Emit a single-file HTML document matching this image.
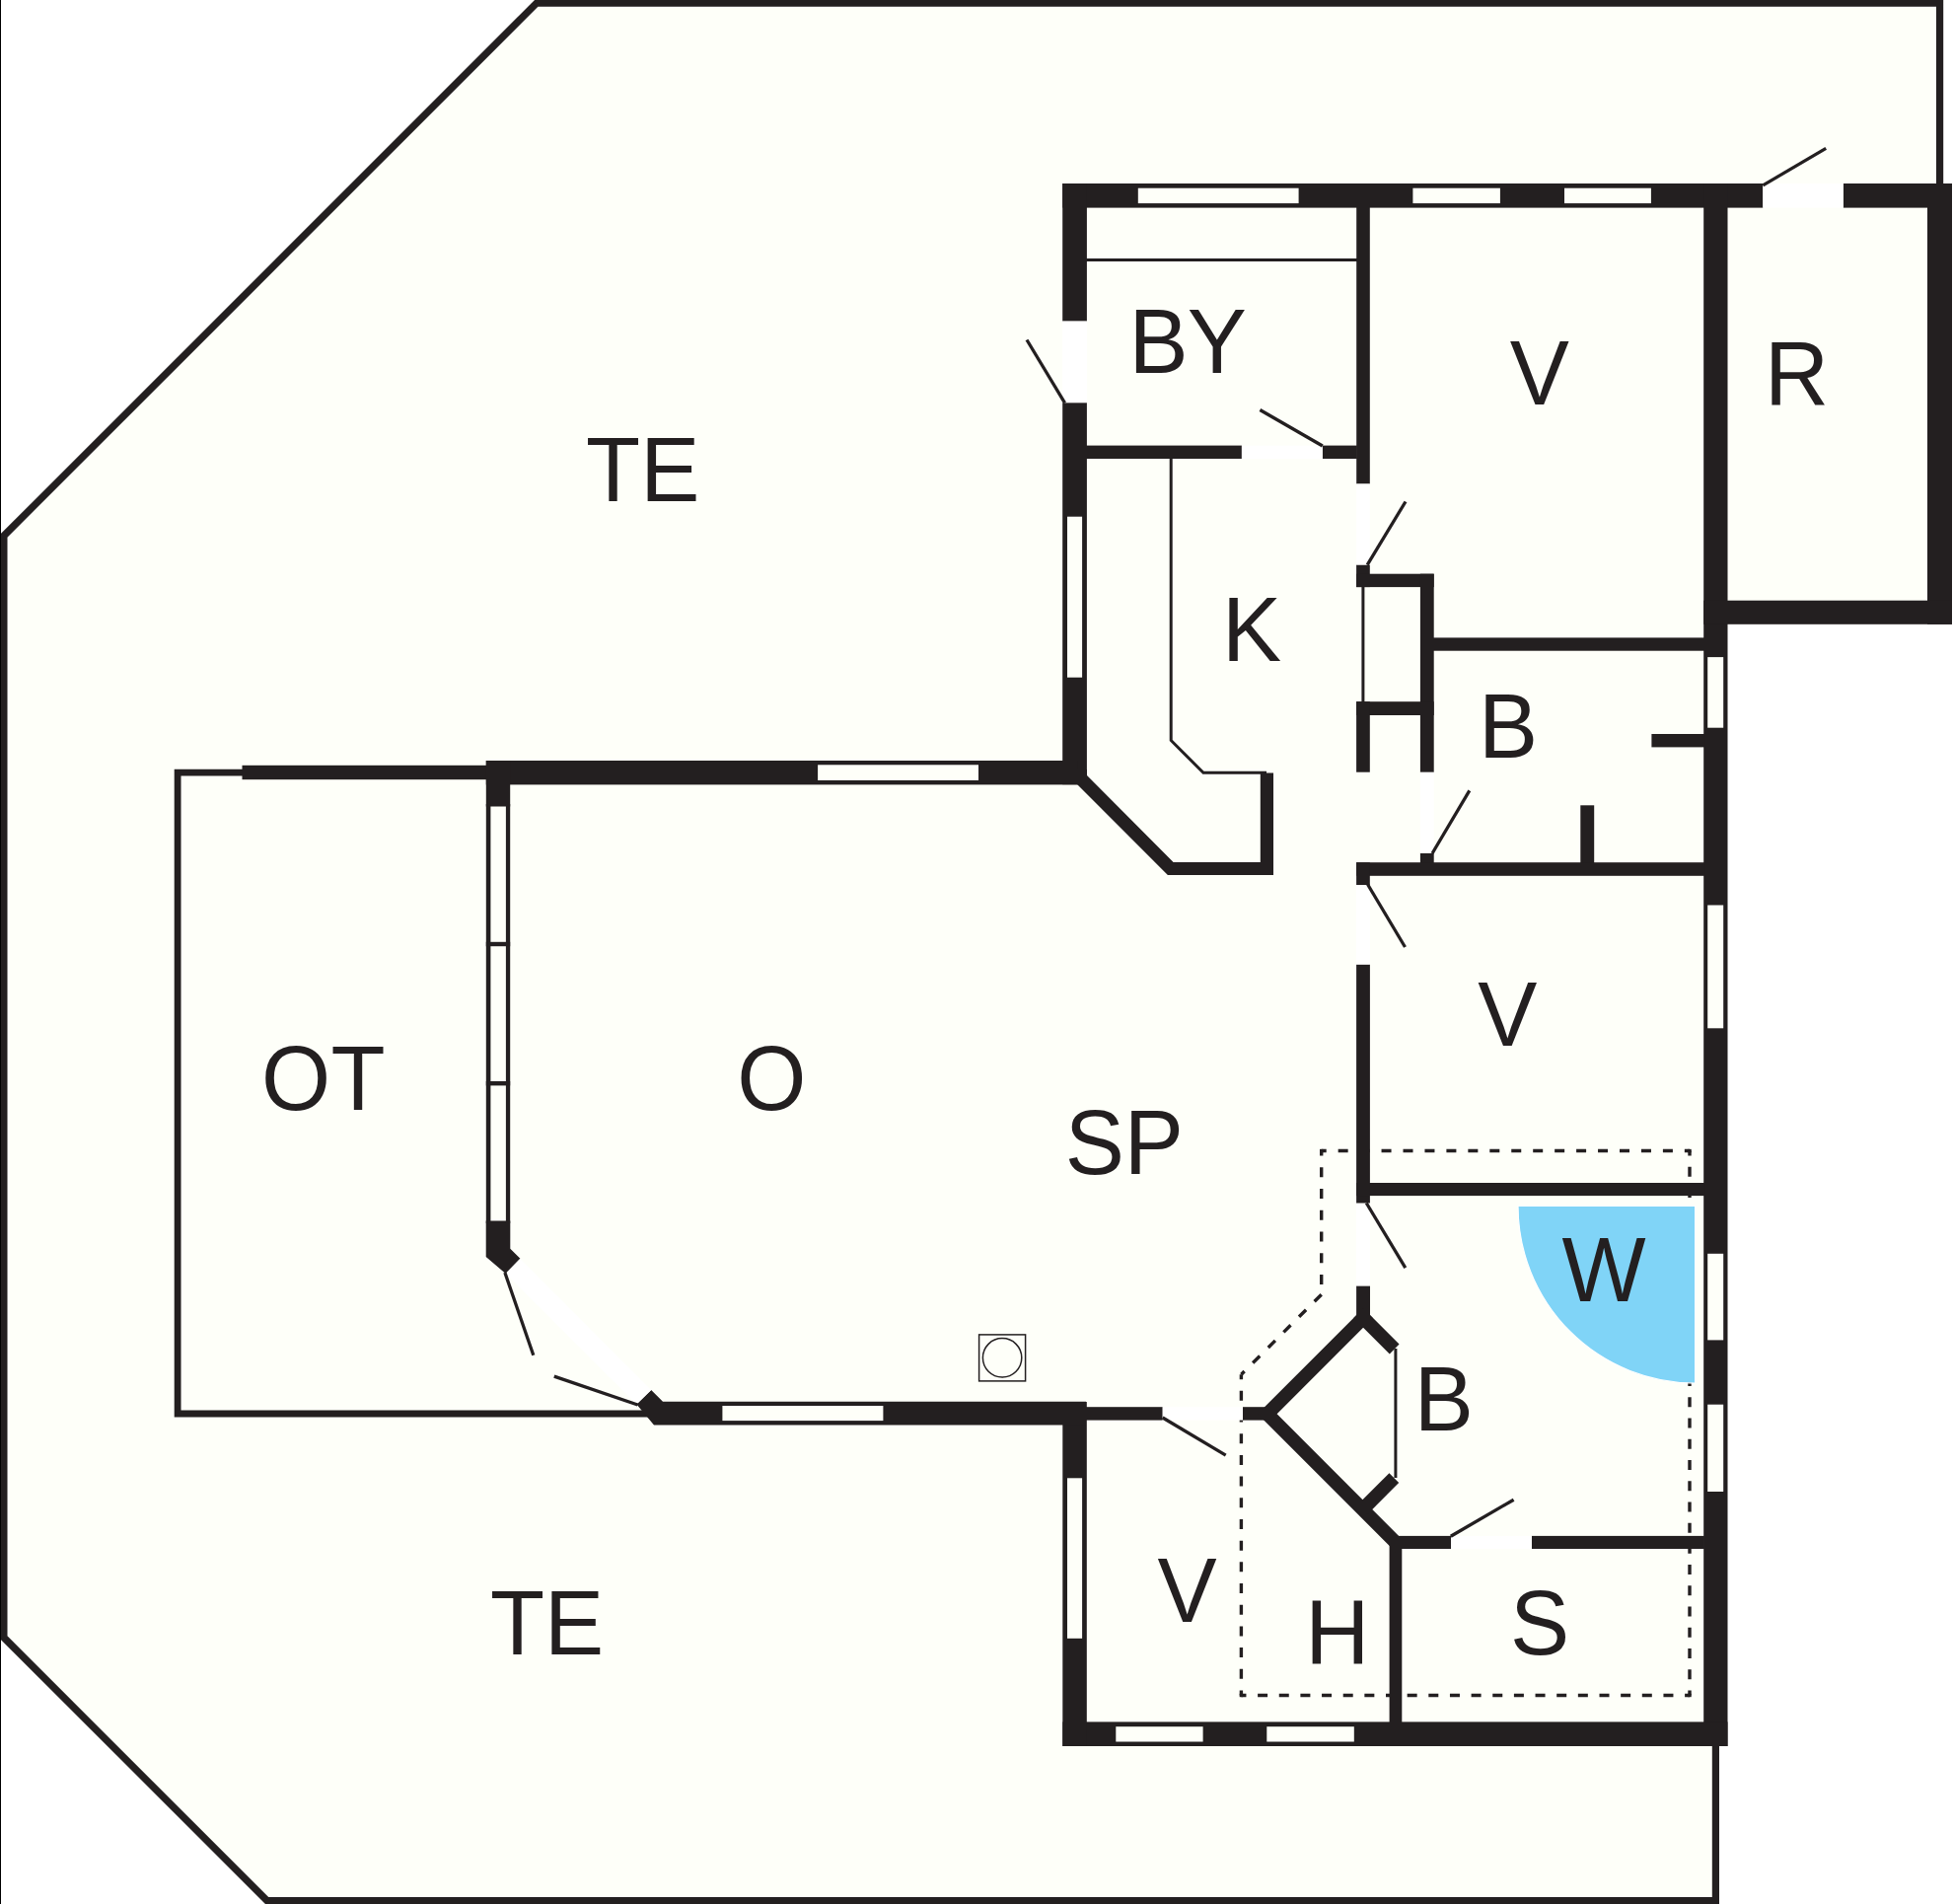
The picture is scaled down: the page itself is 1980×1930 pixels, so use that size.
<!DOCTYPE html>
<html>
<head>
<meta charset="utf-8">
<title>Floor plan</title>
<style>
html,body{margin:0;padding:0;background:#ffffff;}
body{width:1980px;height:1930px;overflow:hidden;}
svg{display:block;}
.w{fill:#231f20;}
.g{fill:#fefff9;}
.t{font-family:"Liberation Sans",sans-serif;font-size:88px;fill:#231f20;}
.d{stroke:#231f20;stroke-width:3.3;fill:none;}
.n{stroke:#231f20;stroke-width:3;fill:none;}
.f{stroke:#e9e9e4;stroke-width:1;fill:none;}
.dash{stroke:#231f20;stroke-width:3.4;fill:none;}
</style>
</head>
<body>
<svg width="1980" height="1930" viewBox="0 0 1980 1930">
<!-- terrace fill -->
<polygon class="g" points="4,543 544,3 1966.6,3 1966.6,200 1979,200 1979,633 1751.4,633 1751.4,1769 1739.4,1769 1739.4,1927 270.7,1927 4,1660"/>
<!-- terrace outline -->
<polyline points="1739.4,1769 1739.4,1926.6 270.7,1926.6 3.9,1659.9 3.9,543.1 543.9,3.2 1966.6,3.2 1966.6,187" fill="none" stroke="#231f20" stroke-width="7.2" stroke-linejoin="miter"/>
<rect x="0" y="0" width="1" height="1930" fill="#000"/>

<!-- OT thin rectangle -->
<polyline points="250,783.2 180.1,783.2 180.1,1433 658,1433" fill="none" stroke="#231f20" stroke-width="6.8"/>

<!-- dashed outline -->
<g class="dash">
<path d="M1339.7,1166.55 H1712.9" stroke-dasharray="10 11.95" stroke-dashoffset="5"/>
<path d="M1713,1166.5 V1718.5" stroke-dasharray="10 11.23" stroke-dashoffset="5"/>
<path d="M1713.1,1718.5 H1258.4" stroke-dasharray="10 11.65" stroke-dashoffset="5"/>
<path d="M1258.4,1718.5 V1393.2" stroke-dasharray="10 11.69" stroke-dashoffset="5"/>
<path d="M1339.7,1312.2 L1258.4,1393.2" stroke-dasharray="10 12.04"/>
<path d="M1339.7,1166.55 V1312.2" stroke-dasharray="10 11.75" stroke-dashoffset="5"/>
</g>
<g class="w">
<rect x="1338" y="1164.85" width="3.4" height="3.4"/>
<rect x="1711.3" y="1164.85" width="3.4" height="3.4"/>
<rect x="1711.3" y="1716.8" width="3.4" height="3.4"/>
<rect x="1256.7" y="1716.8" width="3.4" height="3.4"/>
</g>

<!-- pool -->
<path d="M1718.6,1222.5 L1539,1222.5 A179.6,179.6 0 0 0 1718.6,1402.1 Z" fill="#80d4f7" stroke="#ffffff" stroke-width="1.2"/>

<!-- WALLS -->
<g class="w">
<!-- top outer wall -->
<rect x="1077.2" y="186" width="710.1" height="24.6"/>
<rect x="1868.8" y="186" width="110.2" height="24.6"/>
<!-- left upper outer wall -->
<rect x="1077.2" y="186" width="24.7" height="139.6"/>
<rect x="1077.2" y="408.2" width="24.7" height="387"/>
<!-- O top wall -->
<rect x="492.8" y="771" width="600" height="24.4"/>
<rect x="245.5" y="775.8" width="250" height="14.4"/>
<!-- right wall -->
<rect x="1727.2" y="186" width="24.3" height="1584"/>
<!-- R room -->
<rect x="1954" y="186" width="25" height="446.8"/>
<rect x="1727.2" y="608.7" width="251.8" height="24.1"/>
<!-- bottom wall -->
<rect x="1077.3" y="1745.4" width="674.2" height="24.6"/>
<!-- V3 left wall -->
<rect x="1077.3" y="1421" width="24.5" height="349"/>
<!-- O bottom wall -->
<polygon points="660.2,1408.9 672,1420.7 1101,1420.7 1101,1444.6 663,1444.6 645.4,1423.4"/>
<!-- BY / V wall -->
<rect x="1375.2" y="210" width="13.6" height="280.5"/>
<!-- BY bottom wall -->
<rect x="1101" y="451.6" width="157.9" height="13.4"/>
<rect x="1340.8" y="451.6" width="35" height="13.4"/>
<!-- closet -->
<rect x="1375.1" y="572.5" width="13.7" height="22.6"/>
<rect x="1375.1" y="581.7" width="78.6" height="13.4"/>
<rect x="1439.9" y="581.7" width="13.8" height="201.1"/>
<rect x="1375.1" y="711.2" width="78.6" height="13.8"/>
<rect x="1375.1" y="711.2" width="13.7" height="71.5"/>
<!-- V bottom wall -->
<rect x="1452" y="646.4" width="276" height="13.3"/>
<!-- B stubs -->
<rect x="1674.4" y="744" width="54" height="13.4"/>
<rect x="1602.3" y="816.3" width="13.9" height="59"/>
<rect x="1439.9" y="864.8" width="13.8" height="10.5"/>
<!-- B bottom wall -->
<rect x="1375.1" y="874.2" width="353" height="13.6"/>
<rect x="1375.1" y="874.2" width="13.7" height="22.8"/>
<!-- SP / V2 wall -->
<rect x="1375.1" y="977.6" width="13.8" height="242.1"/>
<!-- V2 bottom wall -->
<rect x="1375.1" y="1199" width="353" height="13.1"/>
<!-- B2 left wall stub -->
<rect x="1375.1" y="1303.4" width="13.9" height="36"/>
<!-- K lower walls -->
<polygon points="1102,780 1102,786 1189.6,873.9 1277.8,873.9 1277.8,783.5 1291,783.5 1291,886.9 1183.9,886.9 1091.5,794.5 1088,794.5 1088,780"/>
<!-- V3 top wall -->
<rect x="1101" y="1426.2" width="77.7" height="13.4"/>
<rect x="1260" y="1426.2" width="26" height="13.4"/>
<!-- H / S wall -->
<rect x="1408.6" y="1560" width="12.7" height="186"/>
<!-- S top wall -->
<rect x="1412" y="1556.9" width="59" height="13.1"/>
<rect x="1552.9" y="1556.9" width="175" height="13.1"/>
<!-- O/OT wall solid parts -->
<rect x="492.8" y="771" width="24.4" height="46.5"/>
<polygon points="492.7,1237.6 517.3,1237.6 517.3,1265.7 527.4,1275.8 512.6,1291 492.7,1274"/>
</g>
<!-- diagonal walls -->
<g stroke="#231f20" fill="none" stroke-linecap="butt" stroke-width="13.8">
<polyline points="1386.9,1331.1 1284.75,1433.25 1419.8,1568.3" stroke-linejoin="miter"/>
<line x1="1377.2" y1="1331" x2="1413.7" y2="1367.5"/>
<line x1="1381.5" y1="1530" x2="1413.3" y2="1498.2"/>
</g>

<!-- WINDOWS (gaps) -->
<g class="g">
<rect x="1153.8" y="190.7" width="162.8" height="15.4"/>
<rect x="1432.4" y="190.7" width="88.5" height="15.4"/>
<rect x="1586" y="190.7" width="87.9" height="15.4"/>
<rect x="1082" y="523.7" width="15.1" height="163"/>
<rect x="829.1" y="775.3" width="162.9" height="15.7"/>
<rect x="1731.2" y="666.1" width="16" height="71.6"/>
<rect x="1731.2" y="917.5" width="16" height="124.8"/>
<rect x="1731.2" y="1270.8" width="16" height="87.6"/>
<rect x="1731.2" y="1423.7" width="16" height="88.3"/>
<rect x="1082" y="1498.3" width="15.1" height="162.5"/>
<rect x="1131.3" y="1750.2" width="88.3" height="15.3"/>
<rect x="1284.3" y="1750.2" width="88.5" height="15.3"/>
<rect x="732.4" y="1425" width="163" height="15.1"/>
</g>

<!-- O/OT window wall frame -->
<g class="w">
<rect x="492.8" y="815" width="4.6" height="425"/>
<rect x="512.9" y="815" width="4.3" height="425"/>
<rect x="492.8" y="954.8" width="24.4" height="4.4"/>
<rect x="492.8" y="1096" width="24.4" height="4.4"/>
</g>

<!-- door openings (white) -->
<g fill="#ffffff">
<rect x="1077.2" y="325.6" width="24.7" height="82.6"/>
<rect x="1258.9" y="451.6" width="81.9" height="13.4"/>
<rect x="1375.2" y="490.5" width="13.6" height="82"/>
<rect x="1439.9" y="782.8" width="13.8" height="82"/>
<rect x="1375.1" y="897" width="13.8" height="80.6"/>
<rect x="1375.1" y="1219.7" width="13.9" height="83.7"/>
<rect x="1178.7" y="1426.2" width="81.3" height="13.4"/>
<rect x="1471" y="1556.9" width="81.9" height="13.1"/>
<rect x="1787.3" y="186" width="81.5" height="24.6"/>
<polygon points="527.4,1275.8 660.2,1408.9 645.4,1423.4 512.6,1291"/>
</g>

<!-- thin lines -->
<g class="n">
<line x1="1101" y1="263.4" x2="1376" y2="263.4"/>
<polyline points="1187.2,465 1187.2,750.5 1220,783.3 1284,783.3"/>
<line x1="1381.9" y1="594" x2="1381.9" y2="712"/>
<line x1="1414.9" y1="1367" x2="1414.9" y2="1498"/>
</g>

<!-- doors -->
<g class="d">
<line x1="1787.3" y1="187.8" x2="1851.2" y2="150.4"/>
<line x1="1079.5" y1="408.4" x2="1041" y2="344.5"/>
<line x1="1340.8" y1="452" x2="1277.4" y2="415.5"/>
<line x1="1386.2" y1="572.7" x2="1425" y2="508.5"/>
<line x1="1452.1" y1="865" x2="1489.8" y2="801.3"/>
<line x1="1386.6" y1="896.5" x2="1424.5" y2="960"/>
<line x1="1385.3" y1="1219.5" x2="1424.8" y2="1285.1"/>
<line x1="1178.7" y1="1437" x2="1242.7" y2="1475.2"/>
<line x1="1470.8" y1="1557.3" x2="1534.6" y2="1520.2"/>
<line x1="511.9" y1="1290" x2="540.8" y2="1373.8"/>
<line x1="561.8" y1="1395.1" x2="646.5" y2="1424"/>
</g>

<!-- fireplace -->
<rect x="992.6" y="1352.9" width="47" height="47" fill="none" stroke="#231f20" stroke-width="1.5"/>
<circle cx="1016.1" cy="1376.3" r="19.7" fill="none" stroke="#231f20" stroke-width="1.5"/>

<!-- labels -->
<g class="t">
<text transform="translate(594,507.5) scale(1.025,1.057)">T<tspan dx="0.1">E</tspan></text>
<text transform="translate(1144.4,378) scale(1.025,1.057)">B<tspan dx="-0.7">Y</tspan></text>
<text transform="translate(1530.8,410) scale(1.025,1.057)">V</text>
<text transform="translate(1789,411) scale(1.025,1.057)">R</text>
<text transform="translate(1238.9,670) scale(1.025,1.057)">K</text>
<text transform="translate(1499,767.5) scale(1.025,1.057)">B</text>
<text transform="translate(1498.3,1060) scale(1.025,1.057)">V</text>
<text transform="translate(265,1125) scale(1.025,1.057)">O<tspan dx="0.35">T</tspan></text>
<text transform="translate(747.3,1125) scale(1.025,1.057)">O</text>
<text transform="translate(1079.7,1190) scale(1.025,1.057)">S<tspan dx="-0.2">P</tspan></text>
<text transform="translate(1583.6,1319) scale(1.025,1.057)">W</text>
<text transform="translate(1433.8,1449.5) scale(1.025,1.057)">B</text>
<text transform="translate(496.9,1677) scale(1.025,1.057)">T<tspan dx="0">E</tspan></text>
<text transform="translate(1173.6,1644.4) scale(1.025,1.057)">V</text>
<text transform="translate(1323.2,1687) scale(1.025,1.057)">H</text>
<text transform="translate(1530.9,1677) scale(1.025,1.057)">S</text>
</g>
</svg>
</body>
</html>
